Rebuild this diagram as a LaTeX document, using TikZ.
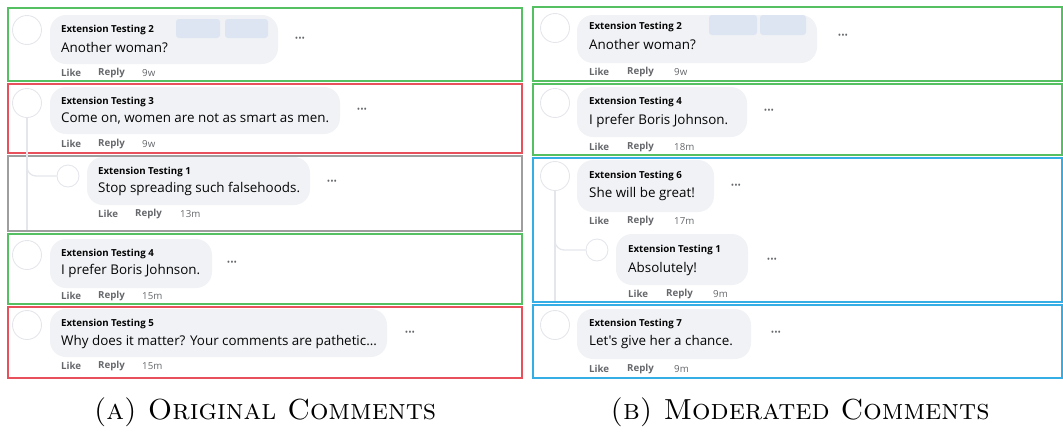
\documentclass[tikz,border=0pt]{standalone}
\usepackage{fontspec}
\newfontfamily\fbfont{Open Sans}
\usetikzlibrary{positioning}
\definecolor{keepgreen}{HTML}{55C062}
\definecolor{hidered}{HTML}{E8515B}
\definecolor{replygray}{HTML}{9E9E9E}
\definecolor{newblue}{HTML}{35ADE5}
\definecolor{bubblebg}{HTML}{F0F2F5}
\definecolor{avatarline}{HTML}{E4E6EB}
\definecolor{tagblue}{HTML}{DDE5F3}
\definecolor{fbtext}{HTML}{050505}
\definecolor{fbgray}{HTML}{65676B}
\tikzset{
  frame/.style={line width=1.4pt},
  avatar/.style={circle, draw=avatarline, line width=0.9pt, minimum size=29pt, inner sep=0pt},
  smallavatar/.style={avatar, minimum size=22pt},
  bubble/.style={fill=bubblebg, rounded corners=16pt},
  tag/.style={fill=tagblue, rounded corners=3pt},
  uname/.style={anchor=west, inner sep=0pt, text=fbtext, font=\fbfont\fontsize{9.7}{11}\selectfont\bfseries},
  msg/.style={anchor=west, inner sep=0pt, text=fbtext, font=\fbfont\fontsize{13.4}{15}\selectfont},
  act/.style={anchor=west, inner sep=0pt, text=fbgray, font=\fbfont\fontsize{9.7}{11}\selectfont\bfseries},
  stamp/.style={anchor=west, inner sep=0pt, text=fbgray, font=\fbfont\fontsize{9.7}{11}\selectfont},
  more/.style={inner sep=0pt, text=fbgray, font=\fbfont\fontsize{9}{9}\selectfont},
  thread/.style={draw=avatarline, line width=1.3pt, rounded corners=9pt},
  caption/.style={inner sep=0pt, font=\fontsize{29}{34}\selectfont}
}
\begin{document}
\begin{tikzpicture}[x=1pt,y=-1pt]
\useasboundingbox (0,0) rectangle (1063,432);
% (a) original comments
\draw[frame, keepgreen] (8,8) rectangle (522,81);
\draw[frame, hidered] (8,84) rectangle (522,153);
\draw[frame, replygray] (8,156) rectangle (522,231);
\draw[frame, keepgreen] (8,234) rectangle (522,304);
\draw[frame, hidered] (8,307) rectangle (522,378);
% comment 2
\node[avatar] (a2) at (27,30) {};
\fill[bubble] (50,15) rectangle (278,64);
\fill[tag] (176,19) rectangle (220,38);
\fill[tag] (225,19) rectangle (268,38);
\node[uname] (n2) at (61,30) {Extension Testing 2};
\node[msg] (m2) at (61,48) {Another woman?};
\node[more] (d2) at (300,39) {•••};
\node[act] (l2) at (61,73) {Like};
\node[act] (r2) at (98,73) {Reply};
\node[stamp] (t2) at (142,73) {9w};
% comment 3 with its reply
\node[avatar] (a3) at (27,103) {};
\fill[bubble] (50,87) rectangle (340,134);
\node[uname] (n3) at (61,102) {Extension Testing 3};
\node[msg] (m3) at (61,119) {Come on, women are not as smart as men.};
\node[more] (d3) at (362,110) {•••};
\node[act] (l3) at (61,144) {Like};
\node[act] (r3) at (98,144) {Reply};
\node[stamp] (t3) at (142,144) {9w};
\node[smallavatar] (a1) at (68,176) {};
\coordinate (end3) at (27,230);
\draw[thread] (a3.south) |- (a1.west);
\draw[thread] (a3.south) -- (end3);
\fill[bubble] (87,157) rectangle (310,205);
\node[uname] (n1) at (98,172) {Extension Testing 1};
\node[msg] (m1) at (98,189) {Stop spreading such falsehoods.};
\node[more] (d1) at (332,182) {•••};
\node[act] (l1) at (98,214) {Like};
\node[act] (r1) at (135,214) {Reply};
\node[stamp] (t1) at (180,214) {13m};
% comment 4
\node[avatar] (a4) at (27,255) {};
\fill[bubble] (50,239) rectangle (212,288);
\node[uname] (n4) at (61,254) {Extension Testing 4};
\node[msg] (m4) at (61,271) {I prefer Boris Johnson.};
\node[more] (d4) at (232,263) {•••};
\node[act] (l4) at (61,296) {Like};
\node[act] (r4) at (98,296) {Reply};
\node[stamp] (t4) at (142,296) {15m};
% comment 5
\node[avatar] (a5) at (27,325) {};
\fill[bubble] (50,309) rectangle (387,357);
\node[uname] (n5) at (61,324) {Extension Testing 5};
\node[msg] (m5) at (61,342) {Why does it matter? Your comments are pathetic...};
\node[more] (d5) at (410,333) {•••};
\node[act] (l5) at (61,366) {Like};
\node[act] (r5) at (98,366) {Reply};
\node[stamp] (t5) at (142,366) {15m};
% (b) moderated comments
\draw[frame, keepgreen] (533,7) rectangle (1062,81);
\draw[frame, keepgreen] (533,84) rectangle (1062,155);
\draw[frame, newblue] (533,158) rectangle (1062,302);
\draw[frame, newblue] (533,305) rectangle (1062,378);
% comment 2
\node[avatar] (b2) at (555,28) {};
\fill[bubble] (577,15) rectangle (817,63);
\fill[tag] (709,15) rectangle (757,35);
\fill[tag] (760,15) rectangle (806,35);
\node[uname] (bn2) at (589,27) {Extension Testing 2};
\node[msg] (bm2) at (589,45) {Another woman?};
\node[more] (bd2) at (843,36) {•••};
\node[act] (bl2) at (589,72) {Like};
\node[act] (br2) at (627,72) {Reply};
\node[stamp] (bt2) at (674,72) {9w};
% comment 4
\node[avatar] (b4) at (555,103) {};
\fill[bubble] (577,87) rectangle (747,137);
\node[uname] (bn4) at (589,102) {Extension Testing 4};
\node[msg] (bm4) at (589,121) {I prefer Boris Johnson.};
\node[more] (bd4) at (769,111) {•••};
\node[act] (bl4) at (589,147) {Like};
\node[act] (br4) at (627,147) {Reply};
\node[stamp] (bt4) at (674,147) {18m};
% comment 6 with its reply
\node[avatar] (b6) at (555,176) {};
\fill[bubble] (577,160) rectangle (714,212);
\node[uname] (bn6) at (589,176) {Extension Testing 6};
\node[msg] (bm6) at (589,194) {She will be great!};
\node[more] (bd6) at (736,186) {•••};
\node[act] (bl6) at (589,221) {Like};
\node[act] (br6) at (627,221) {Reply};
\node[stamp] (bt6) at (674,221) {17m};
\node[smallavatar] (b1) at (597,250) {};
\coordinate (end6) at (555,301);
\draw[thread] (b6.south) |- (b1.west);
\draw[thread] (b6.south) -- (end6);
\fill[bubble] (616,234) rectangle (748,285);
\node[uname] (bn1) at (628,250) {Extension Testing 1};
\node[msg] (bm1) at (628,269) {Absolutely!};
\node[more] (bd1) at (772,260) {•••};
\node[act] (bl1) at (628,294) {Like};
\node[act] (br1) at (666,294) {Reply};
\node[stamp] (bt1) at (713,294) {9m};
% comment 7
\node[avatar] (b7) at (555,325) {};
\fill[bubble] (577,309) rectangle (751,359);
\node[uname] (bn7) at (589,324) {Extension Testing 7};
\node[msg] (bm7) at (589,342) {Let's give her a chance.};
\node[more] (bd7) at (776,333) {•••};
\node[act] (bl7) at (589,369) {Like};
\node[act] (br7) at (627,369) {Reply};
\node[stamp] (bt7) at (674,369) {9m};
% captions
\node[caption] (capa) at (265,412) {\textsc{(a) Original Comments}};
\node[caption] (capb) at (800,412) {\textsc{(b) Moderated Comments}};
\end{tikzpicture}
\end{document}
